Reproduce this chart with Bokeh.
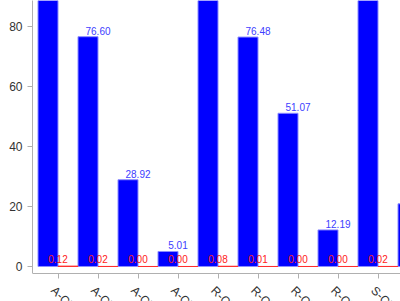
from bokeh.plotting import figure
from bokeh.models import ColumnDataSource, Range1d, FixedTicker, LabelSet, CustomJSTickFormatter
from bokeh.core.properties import value
from bokeh.embed import file_html
from bokeh.resources import INLINE

categories = ["A-Ck1", "A-Ck2", "A-Ck3", "A-Ck4", "R-Ck1", "R-Ck2", "R-Ck3", "R-Ck4", "S-Ck1", "S-Ck2"]
blue_values = [99.50, 76.60, 28.92, 5.01, 99.62, 76.48, 51.07, 12.19, 99.71, 20.90]
red_values = [0.12, 0.02, 0.00, 0.00, 0.08, 0.01, 0.00, 0.00, 0.02, 0.00]
y_ticks = [0, 20, 40, 60, 80]

Y_AXIS_AT = -2.333
idx = list(range(len(categories)))
src = ColumnDataSource(dict(
    center=idx,
    xb=[i - 0.25 for i in idx],
    xr=[i + 0.25 for i in idx],
    blue=blue_values,
    red=red_values,
    blab=["{:.2f}".format(v) for v in blue_values],
    rlab=["{:.2f}".format(v) for v in red_values],
    cat=categories,
    ylab=[Y_AXIS_AT - 3.333] * len(categories),
))

FONT = "Liberation Sans"

p = figure(width=400, height=301, output_backend="svg", toolbar_location=None,
           x_range=Range1d(-0.6375, 8.5625), y_range=Range1d(-11.667, 88.667),
           min_border_left=32, min_border_right=0, min_border_top=0, min_border_bottom=0)
p.outline_line_color = None
p.grid.visible = False
p.background_fill_color = "white"
p.border_fill_color = "white"

p.vbar(x="xb", top="blue", bottom=0, width=0.5, source=src,
       fill_color="#0000FF", line_color="#8C8CFF", line_width=1)
p.vbar(x="xr", top="red", bottom=0, width=0.5, source=src,
       fill_color="#FF0000", line_color="#FF3030", line_width=1)

p.add_layout(LabelSet(x="center", y="blue", text="blab", source=src, y_offset=2,
                      text_align="center", text_baseline="bottom",
                      text_font=value(FONT), text_font_size="10px", text_color="#4040FF"))
p.add_layout(LabelSet(x="center", y="red", text="rlab", source=src, y_offset=3,
                      text_align="center", text_baseline="bottom",
                      text_font=value(FONT), text_font_size="10px", text_color="#FF2020"))
p.add_layout(LabelSet(x="center", y="ylab", text="cat", source=src, angle=-0.7854,
                      text_align="left", text_baseline="top",
                      text_font=value(FONT), text_font_size="12px", text_color="#333333"))

ax = p.yaxis[0]
ax.ticker = FixedTicker(ticks=y_ticks)
ax.bounds = (Y_AXIS_AT, 88.667)
ax.minor_tick_line_color = None
ax.axis_line_color = "#B0B0B0"
ax.major_tick_line_color = "#B0B0B0"
ax.major_tick_in = 0
ax.major_tick_out = 5
ax.major_label_standoff = 5
ax.major_label_text_font = FONT
ax.major_label_text_font_size = "12px"
ax.major_label_text_color = "#333333"

bx = p.xaxis[0]
bx.fixed_location = Y_AXIS_AT
bx.ticker = FixedTicker(ticks=idx)
bx.minor_tick_line_color = None
bx.axis_line_color = "#B0B0B0"
bx.major_tick_line_color = "#B0B0B0"
bx.major_tick_in = 0
bx.major_tick_out = 5
bx.formatter = CustomJSTickFormatter(code="return '';")

open("out.html", "w").write(file_html(p, INLINE))
